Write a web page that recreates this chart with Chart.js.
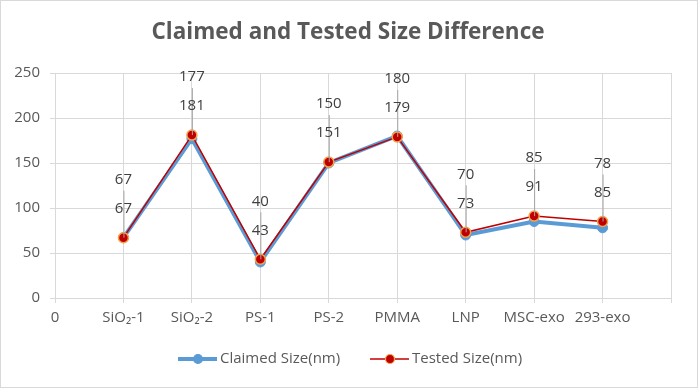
<!DOCTYPE html>
<html>
<head>
<meta charset="utf-8">
<script src="https://cdn.jsdelivr.net/npm/chart.js@4"></script>
<style>
  html, body { margin: 0; padding: 0; background: #fff; }
  #wrap { width: 698px; height: 388px; box-sizing: border-box; border: 1px solid #d9d9d9; position: relative; }
  canvas { display: block; }
</style>
</head>
<body>
<div id="wrap"><canvas id="grafico" width="696" height="386"></canvas></div>
<script>
// Datos del gráfico
const titulo = 'Claimed and Tested Size Difference';
const categorias = ['0', 'SiO\u2082-1', 'SiO\u2082-2', 'PS-1', 'PS-2', 'PMMA', 'LNP', 'MSC-exo', '293-exo', ''];
const tamanoDeclarado = [null, 67, 177, 40, 150, 180, 70, 85, 78, null];
const tamanoMedido = [null, 67, 181, 43, 151, 179, 73, 91, 85, null];
const ticksY = [0, 50, 100, 150, 200, 250];

const gris = '#595959';
const fuente = '"Open Sans", "Noto Sans", sans-serif';
const tamTexto = 15;

// Título, etiquetas de valores con líneas guía y leyenda
const etiquetas = {
    id: 'etiquetas',
    afterDatasetsDraw(chart) {
        const ctx = chart.ctx;
        const m1 = chart.getDatasetMeta(1).data;
        ctx.save();
        ctx.font = tamTexto + 'px ' + fuente;
        ctx.textAlign = 'center';
        ctx.textBaseline = 'middle';
        m1.forEach((p, i) => {
            if (tamanoMedido[i] == null) return;
            const x = p.x;
            const yArriba = p.y - 58;
            const yAbajo = p.y - 29;
            ctx.strokeStyle = '#a6a6a6';
            ctx.lineWidth = 1;
            ctx.beginPath();
            ctx.moveTo(x + 0.5, yArriba + 11);
            ctx.lineTo(x + 0.5, p.y);
            ctx.stroke();
            ctx.fillStyle = '#404040';
            ctx.fillText(String(tamanoDeclarado[i]), x, yArriba);
            ctx.fillText(String(tamanoMedido[i]), x, yAbajo);
        });
        ctx.restore();
    },
    afterDraw(chart) {
        const ctx = chart.ctx;
        ctx.save();
        // Título
        ctx.font = 'bold 22.5px ' + fuente;
        ctx.fillStyle = gris;
        ctx.textAlign = 'center';
        ctx.textBaseline = 'middle';
        ctx.fillText(titulo, 347, 32);

        // Leyenda inferior con línea y marcador
        const y = 358;
        ctx.font = tamTexto + 'px ' + fuente;
        ctx.textAlign = 'left';
        const items = [
            { x: 177, ds: chart.data.datasets[0], w: 4 },
            { x: 369, ds: chart.data.datasets[1], w: 1.5 }
        ];
        items.forEach(it => {
            ctx.strokeStyle = it.ds.borderColor;
            ctx.lineWidth = it.w;
            ctx.beginPath();
            ctx.moveTo(it.x, y);
            ctx.lineTo(it.x + 39, y);
            ctx.stroke();
            ctx.beginPath();
            ctx.arc(it.x + 20, y, 4.5, 0, Math.PI * 2);
            ctx.fillStyle = it.ds.pointBackgroundColor;
            ctx.fill();
            ctx.lineWidth = 1.2;
            ctx.strokeStyle = it.ds.pointBorderColor;
            ctx.stroke();
            ctx.fillStyle = gris;
            ctx.fillText(it.ds.label, it.x + 42, y);
        });
        ctx.restore();
    }
};

const ctx = document.getElementById('grafico').getContext('2d');
const grafico = new Chart(ctx, {
    type: 'line',
    data: {
        labels: categorias,
        datasets: [{
            label: 'Claimed Size(nm)',
            data: tamanoDeclarado,
            order: 1,
            borderColor: '#5b9bd5',
            backgroundColor: '#5b9bd5',
            borderWidth: 4,
            pointRadius: 5,
            pointBackgroundColor: '#5b9bd5',
            pointBorderColor: '#5b9bd5',
            pointBorderWidth: 1,
            tension: 0
        }, {
            label: 'Tested Size(nm)',
            data: tamanoMedido,
            order: 0,
            borderColor: '#c00000',
            backgroundColor: '#c00000',
            borderWidth: 1.5,
            pointRadius: 5,
            pointBackgroundColor: '#c00000',
            pointBorderColor: '#f4a34b',
            pointBorderWidth: 1.5,
            tension: 0
        }]
    },
    options: {
        responsive: false,
        animation: false,
        layout: { padding: { left: 0, right: 26, top: 72, bottom: 0 } },
        plugins: {
            legend: { display: false },
            tooltip: { enabled: false },
            title: { display: false }
        },
        scales: {
            x: {
                offset: false,
                grid: { color: '#d9d9d9', tickLength: 5, drawTicks: true },
                border: { color: '#d9d9d9' },
                ticks: { color: gris, font: { family: fuente, size: tamTexto }, padding: 6, maxRotation: 0, autoSkip: false },
                afterFit: s => { s.height = 89; }
            },
            y: {
                min: 0,
                max: 250,
                afterBuildTicks: s => { s.ticks = ticksY.map(v => ({ value: v })); },
                grid: { color: '#d9d9d9', tickLength: 5, drawTicks: true },
                border: { display: false },
                ticks: { color: gris, font: { family: fuente, size: tamTexto }, padding: 10 },
                afterFit: s => { s.width = 54; }
            }
        }
    },
    plugins: [etiquetas]
});
</script>
</body>
</html>
